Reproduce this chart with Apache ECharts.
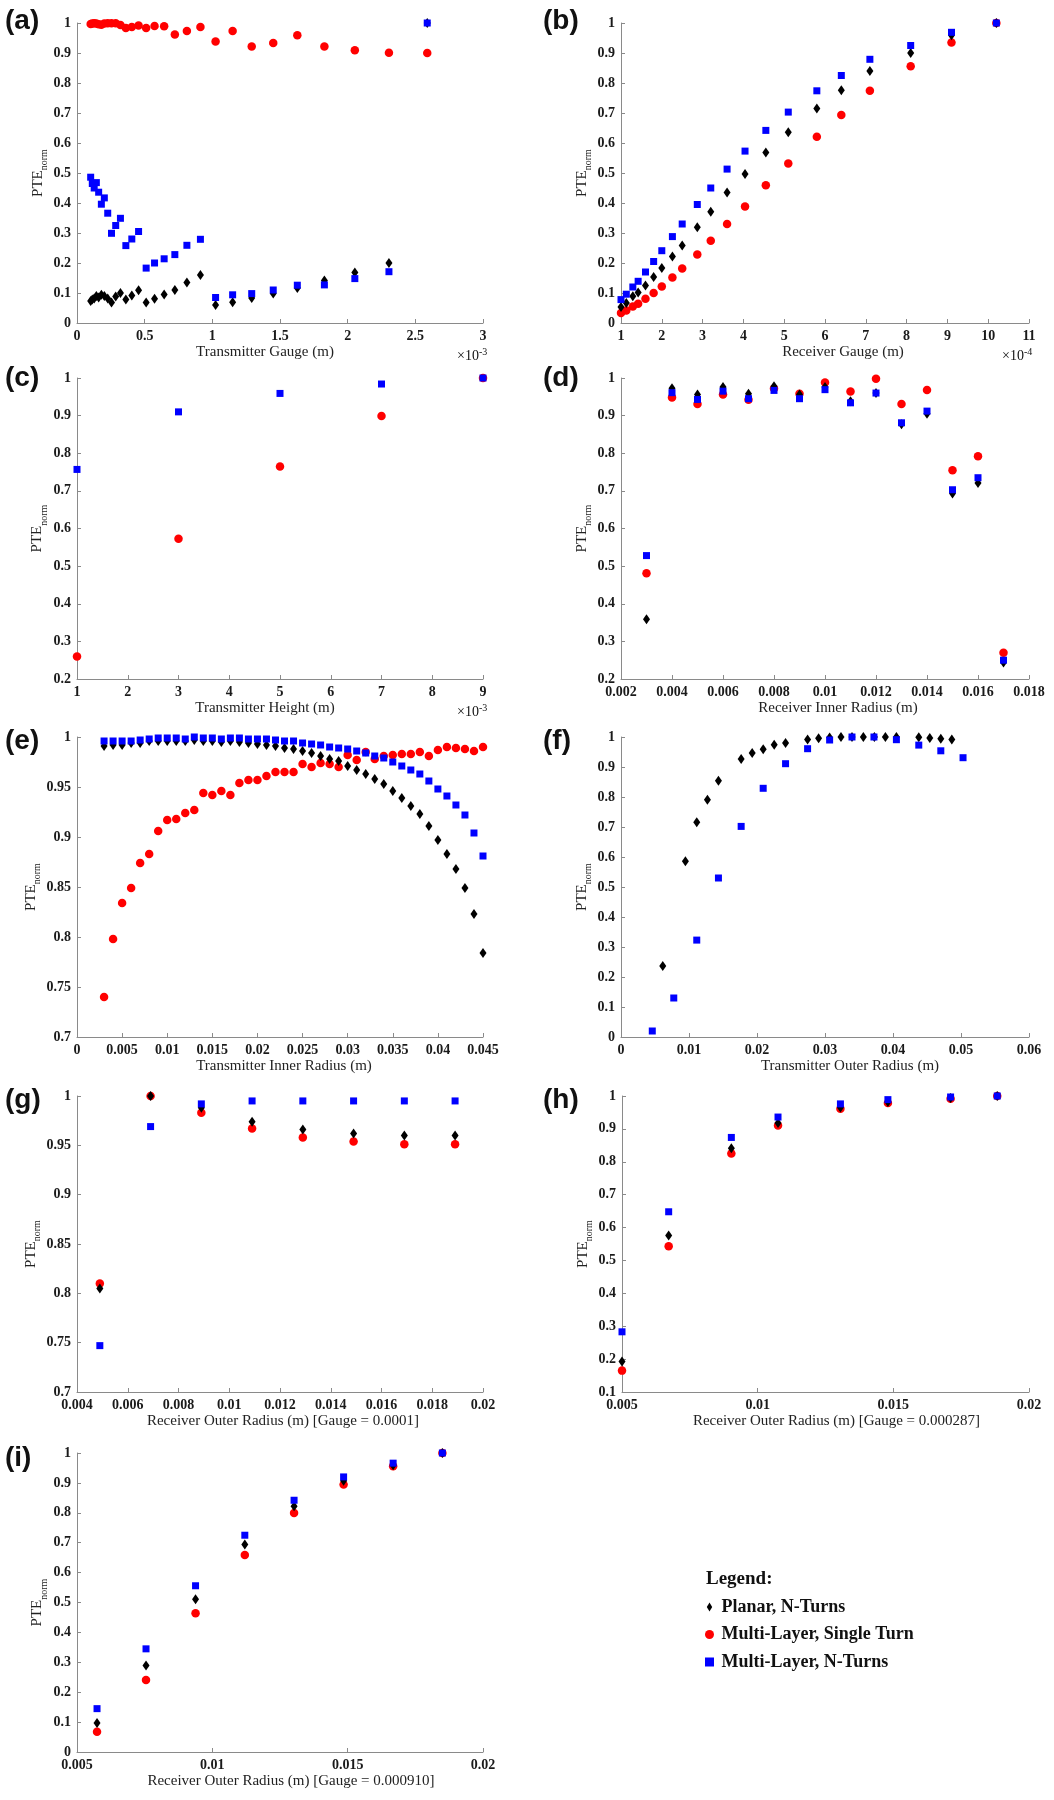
<!DOCTYPE html>
<html>
<head>
<meta charset="utf-8">
<script src="https://cdn.jsdelivr.net/npm/echarts@6/dist/echarts.min.js"></script>
<style>
  html, body { margin: 0; padding: 0; background: #fff; }
  #chart { width: 1054px; height: 1800px; }
</style>
</head>
<body>
<div id="chart"></div>
<script>
// (a) transmitter gauge, x in units of 1e-3 m
const xA = [0.101,0.113,0.127,0.143,0.160,0.180,0.202,0.227,0.255,0.286,0.321,0.361,0.405,0.455,0.511,0.573,0.644,0.723,0.812,0.912,1.024,1.150,1.291,1.450,1.628,1.828,2.053,2.305,2.588];
const planarA = [0.073,0.078,0.082,0.090,0.085,0.094,0.090,0.082,0.068,0.088,0.100,0.078,0.092,0.109,0.068,0.081,0.095,0.110,0.135,0.160,0.060,0.069,0.083,0.098,0.117,0.142,0.168,0.200,1.0];
const singleA = [0.997,0.998,0.999,0.998,0.996,0.994,0.998,0.999,0.999,0.999,0.993,0.983,0.987,0.992,0.983,0.990,0.989,0.962,0.973,0.987,0.938,0.973,0.922,0.933,0.959,0.922,0.909,0.901,0.900];
const multiA = [0.486,0.465,0.450,0.468,0.436,0.396,0.417,0.366,0.299,0.325,0.349,0.258,0.280,0.305,0.183,0.200,0.214,0.228,0.259,0.279,0.085,0.094,0.098,0.110,0.126,0.127,0.148,0.171,1.0];

// (b) receiver gauge, x in units of 1e-4 m
const xB = [1.0,1.13,1.29,1.42,1.6,1.8,2.0,2.26,2.5,2.87,3.2,3.6,4.04,4.55,5.1,5.8,6.4,7.1,8.1,9.1,10.2];
const planarB = [0.053,0.067,0.089,0.102,0.125,0.153,0.183,0.222,0.258,0.319,0.371,0.435,0.497,0.568,0.636,0.715,0.776,0.840,0.900,0.959,1.0];
const singleB = [0.033,0.042,0.055,0.064,0.081,0.100,0.122,0.152,0.182,0.228,0.274,0.330,0.388,0.459,0.532,0.621,0.693,0.774,0.856,0.935,1.0];
const multiB = [0.078,0.096,0.120,0.139,0.170,0.205,0.241,0.288,0.330,0.395,0.450,0.513,0.573,0.642,0.703,0.774,0.825,0.879,0.925,0.969,1.0];

// (c) transmitter height, x in units of 1e-3 m
const xC = [1,3,5,7,9];
const singleC = [0.260,0.573,0.765,0.899,1.0];
const multiC = [0.757,0.910,0.959,0.984,1.0];

// (d) receiver inner radius
const xD = [0.003,0.004,0.005,0.006,0.007,0.008,0.009,0.010,0.011,0.012,0.013,0.014,0.015,0.016,0.017];
const planarD = [0.359,0.973,0.956,0.976,0.958,0.978,0.956,0.976,0.938,0.960,0.877,0.905,0.693,0.721,0.244];
const singleD = [0.481,0.948,0.931,0.956,0.942,0.972,0.958,0.988,0.964,0.998,0.931,0.968,0.755,0.792,0.270];
const multiD = [0.528,0.961,0.943,0.965,0.945,0.967,0.945,0.969,0.934,0.960,0.881,0.912,0.703,0.735,0.250];

// (e) transmitter inner radius
const xE = [0.003,0.004,0.005,0.006,0.007,0.008,0.009,0.010,0.011,0.012,0.013,0.014,0.015,0.016,0.017,0.018,0.019,0.020,0.021,0.022,0.023,0.024,0.025,0.026,0.027,0.028,0.029,0.030,0.031,0.032,0.033,0.034,0.035,0.036,0.037,0.038,0.039,0.040,0.041,0.042,0.043,0.044,0.045];
const planarE = [0.991,0.992,0.992,0.994,0.994,0.996,0.996,0.996,0.996,0.996,0.997,0.996,0.996,0.995,0.996,0.995,0.994,0.993,0.992,0.991,0.989,0.988,0.986,0.984,0.981,0.978,0.976,0.971,0.967,0.963,0.958,0.953,0.946,0.939,0.931,0.923,0.911,0.897,0.883,0.868,0.849,0.823,0.784];
const singleE = [0.740,0.798,0.834,0.849,0.874,0.883,0.906,0.917,0.918,0.924,0.927,0.944,0.942,0.946,0.942,0.954,0.957,0.957,0.961,0.965,0.965,0.965,0.973,0.970,0.974,0.973,0.970,0.982,0.977,0.985,0.978,0.981,0.982,0.983,0.983,0.985,0.981,0.987,0.990,0.989,0.988,0.986,0.990];
const multiE = [0.996,0.996,0.996,0.996,0.997,0.998,0.999,0.999,0.999,0.998,1.0,0.999,0.999,0.998,0.999,0.999,0.998,0.998,0.998,0.997,0.996,0.996,0.994,0.993,0.992,0.990,0.989,0.988,0.986,0.984,0.981,0.979,0.975,0.971,0.967,0.963,0.956,0.948,0.941,0.932,0.922,0.904,0.881];

// (f) transmitter outer radius (planar and multi-layer sampled differently)
const xFPlanar = [0.00614,0.00947,0.01114,0.01271,0.01433,0.01767,0.01929,0.02091,0.02253,0.0242,0.02744,0.02906,0.03068,0.03235,0.03397,0.03564,0.03726,0.03888,0.0405,0.04379,0.04541,0.04703,0.04865];
const planarF = [0.237,0.586,0.716,0.791,0.854,0.927,0.947,0.959,0.974,0.980,0.992,0.996,0.998,1.0,1.0,1.0,1.0,1.0,1.0,0.999,0.997,0.994,0.992];
const xFMulti = [0.0046,0.00776,0.01114,0.01433,0.01767,0.02091,0.0242,0.02744,0.03068,0.03397,0.0372,0.0405,0.04379,0.04703,0.0503];
const multiF = [0.020,0.130,0.323,0.530,0.702,0.829,0.911,0.961,0.990,1.0,1.0,0.991,0.973,0.954,0.931];

// (g) receiver outer radius, gauge 0.0001
const xG = [0.0049,0.0069,0.0089,0.0109,0.0129,0.0149,0.0169,0.0189];
const planarG = [0.805,1.0,0.988,0.974,0.966,0.962,0.960,0.960];
const singleG = [0.810,1.0,0.983,0.967,0.958,0.954,0.951,0.951];
const multiG = [0.747,0.969,0.992,0.995,0.995,0.995,0.995,0.995];

// (h) receiver outer radius, gauge 0.000287
const xH = [0.005,0.00672,0.00903,0.01075,0.01305,0.0148,0.01711,0.01883];
const planarH = [0.193,0.576,0.841,0.918,0.965,0.982,0.994,1.0];
const singleH = [0.165,0.543,0.825,0.910,0.961,0.979,0.992,1.0];
const multiH = [0.283,0.648,0.874,0.936,0.976,0.989,0.997,1.0];

// (i) receiver outer radius, gauge 0.000910
const xI = [0.00574,0.00755,0.00938,0.0112,0.01302,0.01485,0.01668,0.0185];
const planarI = [0.097,0.289,0.511,0.694,0.822,0.907,0.959,1.0];
const singleI = [0.068,0.241,0.464,0.659,0.799,0.895,0.956,1.0];
const multiI = [0.145,0.345,0.556,0.725,0.842,0.920,0.966,1.0];

const panelLabels = ['(a)','(b)','(c)','(d)','(e)','(f)','(g)','(h)','(i)'];
const xNames = [
  'Transmitter Gauge (m)', 'Receiver Gauge (m)',
  'Transmitter Height (m)', 'Receiver Inner Radius (m)',
  'Transmitter Inner Radius (m)', 'Transmitter Outer Radius (m)',
  'Receiver Outer Radius (m) [Gauge = 0.0001]', 'Receiver Outer Radius (m) [Gauge = 0.000287]',
  'Receiver Outer Radius (m) [Gauge = 0.000910]'
];
// [min, max, interval]
const xTicks = [[0,3,0.5],[1,11,1],[1,9,1],[0.002,0.018,0.002],[0,0.045,0.005],[0,0.06,0.01],[0.004,0.02,0.002],[0.005,0.02,0.005],[0.005,0.02,0.005]];
const yTicks = [[0,1,0.1],[0,1,0.1],[0.2,1,0.1],[0.2,1,0.1],[0.7,1,0.05],[0,1,0.1],[0.7,1,0.05],[0.1,1,0.1],[0,1,0.1]];

const seriesNames = ['Planar, N-Turns', 'Multi-Layer, Single Turn', 'Multi-Layer, N-Turns'];

const panels = [
  {planar: [xA, planarA], single: [xA, singleA], multi: [xA, multiA]},
  {planar: [xB, planarB], single: [xB, singleB], multi: [xB, multiB]},
  {single: [xC, singleC], multi: [xC, multiC]},
  {planar: [xD, planarD], single: [xD, singleD], multi: [xD, multiD]},
  {planar: [xE, planarE], single: [xE, singleE], multi: [xE, multiE]},
  {planar: [xFPlanar, planarF], multi: [xFMulti, multiF]},
  {planar: [xG, planarG], single: [xG, singleG], multi: [xG, multiG]},
  {planar: [xH, planarH], single: [xH, singleH], multi: [xH, multiH]},
  {planar: [xI, planarI], single: [xI, singleI], multi: [xI, multiI]}
];

// layout (px)
const grids = [
  {left: 77, top: 23, width: 406, height: 300},
  {left: 621, top: 23, width: 408, height: 300},
  {left: 77, top: 378, width: 406, height: 301},
  {left: 621, top: 378, width: 408, height: 301},
  {left: 77, top: 737, width: 406, height: 300},
  {left: 621, top: 737, width: 408, height: 300},
  {left: 77, top: 1096, width: 406, height: 296},
  {left: 622, top: 1096, width: 407, height: 296},
  {left: 77, top: 1453, width: 406, height: 299}
];
const labelPos = [[5,7],[543,7],[5,364],[543,364],[5,727],[543,727],[5,1086],[543,1086],[5,1444]];
const xNameShift = [-15, 18, -15, 13, 4, 25, 3, 11, 11];
const yNameGap = [27, 26, 28, 26, 34, 26, 34, 26, 28];

const SERIF = '"Liberation Serif", "Times New Roman", serif';
const SANS = '"Liberation Sans", Arial, sans-serif';
const AXIS_GRAY = '#8a8a8a';
const RED = '#ff0000', BLUE = '#0000ff', BLACK = '#000000';

function zip(xs, ys) { return xs.map((x, i) => [x, ys[i]]); }

let xAxes = [], yAxes = [], series = [], titles = [];

panels.forEach(function (p, i) {
  let dx = xNameShift[i];
  xAxes.push({
    type: 'value', gridIndex: i,
    min: xTicks[i][0], max: xTicks[i][1], interval: xTicks[i][2],
    name: xNames[i], nameLocation: 'middle', nameGap: 22,
    nameTextStyle: {fontFamily: SERIF, fontSize: 15, color: '#222',
      padding: dx >= 0 ? [0, 0, 0, 2 * dx] : [0, -2 * dx, 0, 0]},
    axisLine: {onZero: false, lineStyle: {color: AXIS_GRAY, width: 1}},
    axisTick: {inside: true, length: 4, lineStyle: {color: AXIS_GRAY}},
    axisLabel: {fontFamily: SERIF, fontSize: 14, fontWeight: 'bold', color: '#1a1a1a', margin: 6},
    splitLine: {show: false}
  });
  yAxes.push({
    type: 'value', gridIndex: i,
    min: yTicks[i][0], max: yTicks[i][1], interval: yTicks[i][2],
    name: '{a|PTE}{b|norm}', nameLocation: 'middle', nameRotate: 90, nameGap: yNameGap[i],
    nameTextStyle: {rich: {
      a: {fontFamily: SERIF, fontSize: 15, color: '#222'},
      b: {fontFamily: SERIF, fontSize: 10, color: '#222', padding: [13, 0, 0, 0]}
    }},
    axisLine: {onZero: false, lineStyle: {color: AXIS_GRAY, width: 1}},
    axisTick: {inside: true, length: 4, lineStyle: {color: AXIS_GRAY}},
    axisLabel: {fontFamily: SERIF, fontSize: 14, fontWeight: 'bold', color: '#1a1a1a', margin: 6},
    splitLine: {show: false}
  });

  // drawing order: red circles, black diamonds, blue squares on top
  if (p.single) series.push({
    name: seriesNames[1], type: 'scatter', xAxisIndex: i, yAxisIndex: i, z: 2,
    symbol: 'circle', symbolSize: 8.5, itemStyle: {color: RED, opacity: 1},
    data: zip(p.single[0], p.single[1])
  });
  if (p.planar) series.push({
    name: seriesNames[0], type: 'scatter', xAxisIndex: i, yAxisIndex: i, z: 3,
    symbol: 'diamond', symbolSize: [7, 10], itemStyle: {color: BLACK, opacity: 1},
    data: zip(p.planar[0], p.planar[1])
  });
  if (p.multi) series.push({
    name: seriesNames[2], type: 'scatter', xAxisIndex: i, yAxisIndex: i, z: 4,
    symbol: 'rect', symbolSize: 7, itemStyle: {color: BLUE, opacity: 1},
    data: zip(p.multi[0], p.multi[1])
  });

  titles.push({
    text: panelLabels[i], left: labelPos[i][0], top: labelPos[i][1], padding: 0,
    textStyle: {fontFamily: SANS, fontSize: 28, fontWeight: 'bold', color: '#111'}
  });
});

// axis exponent labels
const expRich = {
  m: {fontFamily: SERIF, fontSize: 14, fontWeight: 'normal', color: '#111'},
  s: {fontFamily: SERIF, fontSize: 10, fontWeight: 'normal', color: '#111', padding: [0, 0, 9, 0]}
};
[[457, 347, '-3'], [1002, 347, '-4'], [457, 703, '-3']].forEach(function (e) {
  titles.push({text: '{m|×10}{s|' + e[2] + '}', left: e[0], top: e[1], padding: 0,
    textStyle: {fontWeight: 'normal', rich: expRich}});
});

titles.push({
  text: 'Legend:', left: 706, top: 1570, padding: 0,
  textStyle: {fontFamily: SERIF, fontSize: 19, fontWeight: 'bold', color: '#111'}
});

let chart = echarts.init(document.getElementById('chart'), null, {renderer: 'canvas'});
chart.setOption({
  animation: false,
  backgroundColor: '#fff',
  title: titles,
  grid: grids,
  xAxis: xAxes,
  yAxis: yAxes,
  legend: {
    orient: 'vertical', left: 705, top: 1598, padding: 0,
    itemWidth: 14, itemHeight: 9, itemGap: 9.5, selectedMode: false,
    textStyle: {fontFamily: SERIF, fontSize: 18, fontWeight: 'bold', color: '#111', lineHeight: 18},
    data: [
      {name: seriesNames[0], icon: 'path://M3,0L6,5L3,10L0,5Z'},
      {name: seriesNames[1], icon: 'circle'},
      {name: seriesNames[2], icon: 'path://M0,0L10,0L10,10L0,10Z'}
    ]
  },
  series: series
});
</script>
</body>
</html>
